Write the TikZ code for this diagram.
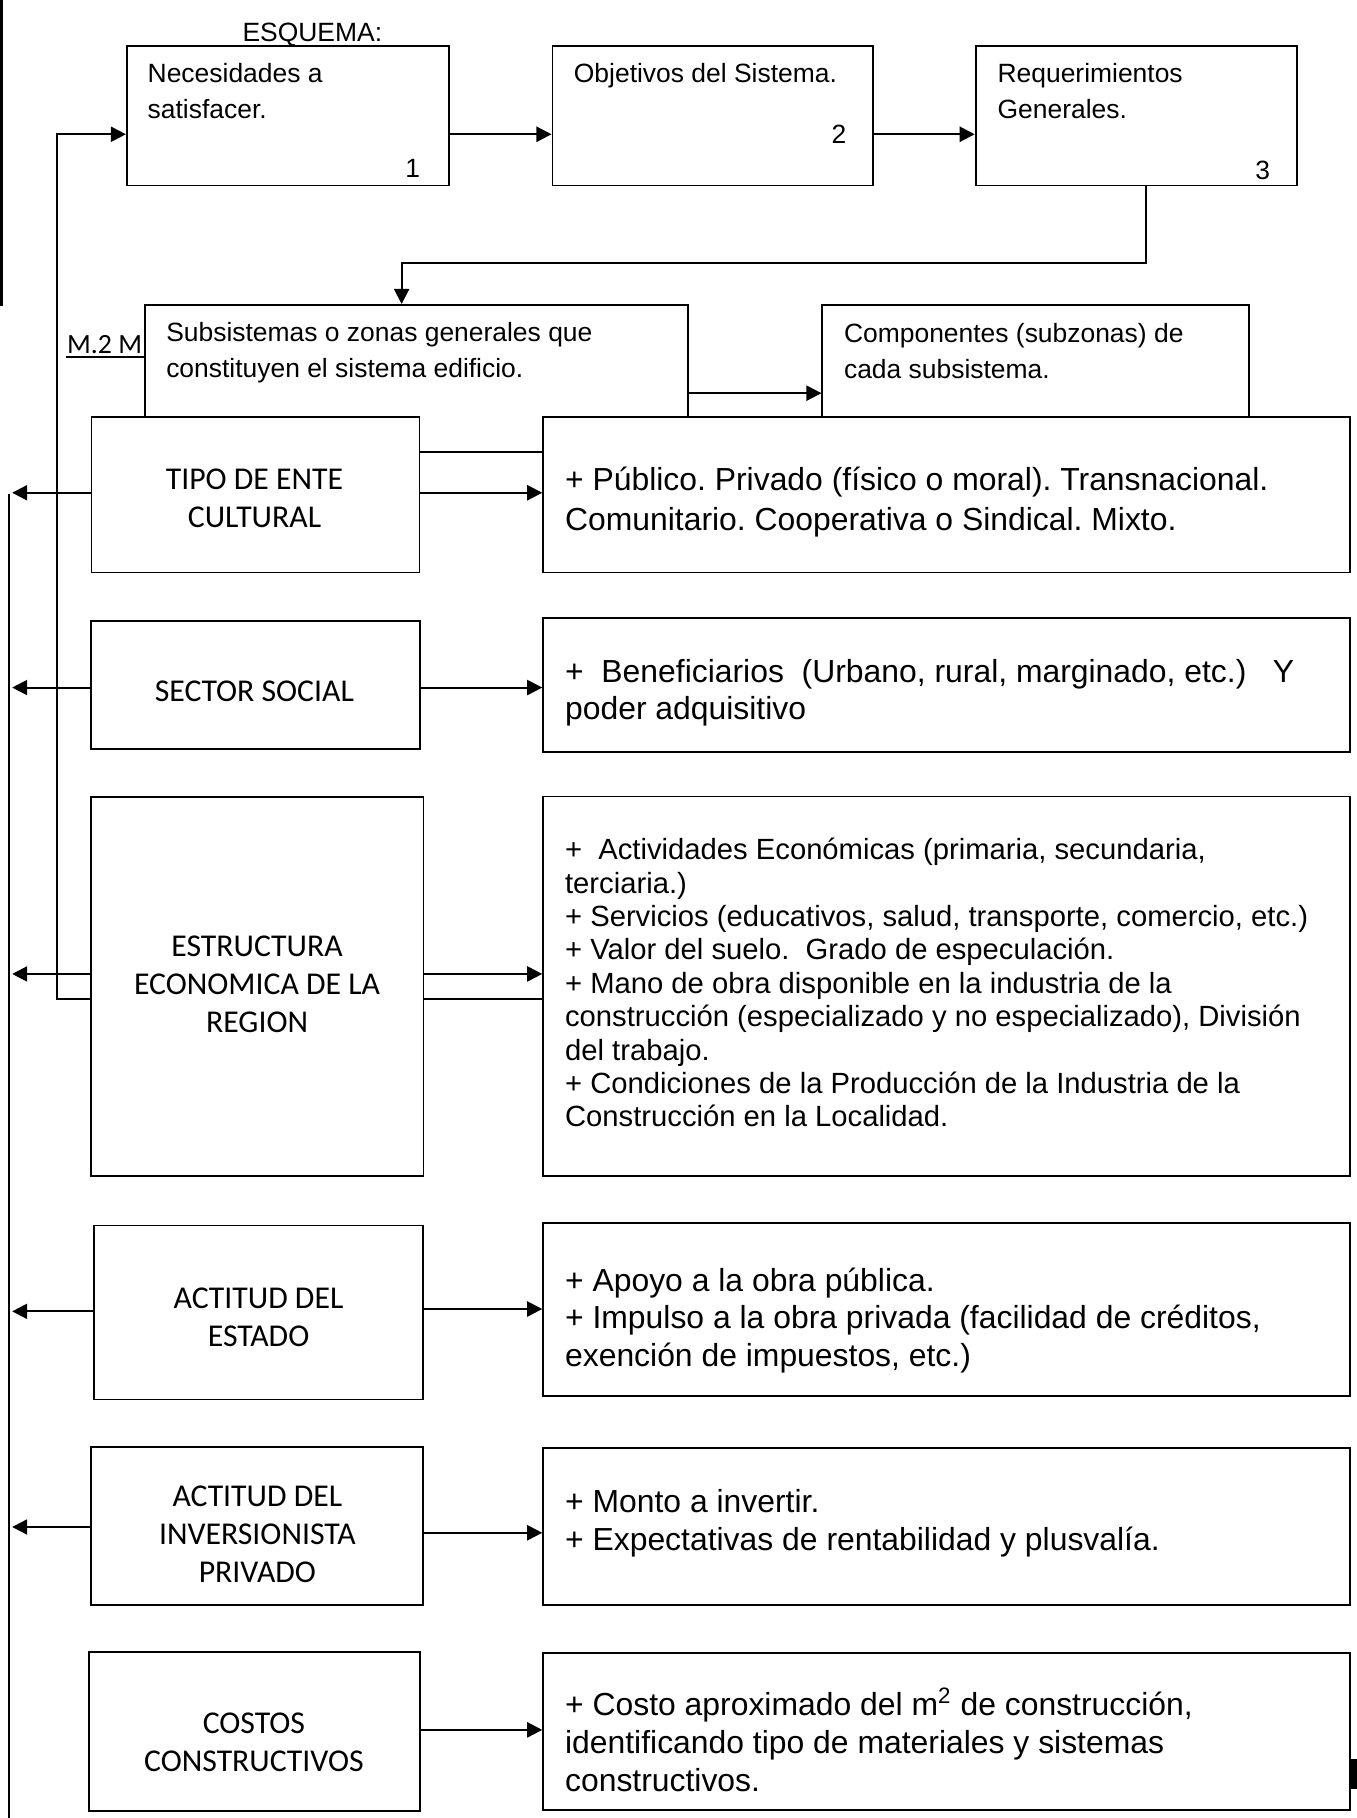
\documentclass[tikz,border=0pt]{standalone}
\usepackage{fontspec}
\setmainfont{Liberation Sans}
\newfontfamily\carl{Carlito}
\usetikzlibrary{arrows.meta,fit}
\frenchspacing
\pgfdeclarelayer{paper}
\pgfdeclarelayer{under}
\pgfsetlayers{paper,under,main}
\tikzset{
  box/.style={draw, line width=0.8pt, fill=white, inner sep=0pt},
  ln/.style={line width=0.8pt},
  arr/.style={line width=0.9pt, -{Triangle[length=6.5pt,width=6.5pt]}},
  ttext/.style={anchor=north west, inner sep=0pt, align=left, font=\fontsize{11.4}{15.5}\selectfont},
  num/.style={anchor=base, inner sep=0pt, font=\fontsize{11.4}{13}\selectfont},
  rtext/.style={anchor=north west, inner sep=0pt, align=left},
  ltext/.style={anchor=north, inner sep=0pt, align=center, font=\carl\fontsize{13.7}{16.5}\selectfont},
}
\begin{document}
\begin{tikzpicture}[x=0.5pt,y=-0.5pt]
\useasboundingbox (0,0) rectangle (1170,1568);
\begin{pgfonlayer}{paper}
  \fill[white] (0,0) rectangle (1170,1568);
\end{pgfonlayer}

% marks at the page edges
\fill (0,0) rectangle (2.8,264);
\fill (1163.4,1517) rectangle (1170,1543);

% ---- upper sequence ----
\node[anchor=base, inner sep=0pt, font=\fontsize{11.4}{13}\selectfont] (esq) at (269.4,35.5) {ESQUEMA:};

\node[box, fit={(109.4,39.4) (387,160)}] (n1) {};
\node[box, fit={(476.5,39.4) (752.9,160)}] (n2) {};
\node[box, fit={(841.5,39.4) (1118.7,160)}] (n3) {};
\node[ttext] (t1) at (127,48.8) {\strut Necesidades a\\\strut satisfacer.};
\node[ttext] (t2) at (494.6,48.8) {\strut Objetivos del Sistema.};
\node[ttext] (t3) at (860,48.8) {\strut Requerimientos\\\strut Generales.};
\node[num] (k1) at (356,153.2) {1};
\node[num] (k2) at (723.7,124) {2};
\node[num] (k3) at (1089,154.8) {3};

\coordinate (ytop) at (0,115.8);
\draw[arr] (n1.east |- ytop) -- (n2.west |- ytop);
\draw[arr] (n2.east |- ytop) -- (n3.west |- ytop);

% ---- subsystems ----
\node[box, fit={(125,263) (593.5,390)}] (sub) {};
\node[box, fit={(709.3,263) (1077.5,390)}] (comp) {};
\node[ttext] (tsub) at (143,272.3) {\strut Subsistemas o zonas generales que\\\strut constituyen el sistema edificio.};
\node[ttext] (tcomp) at (727.6,273.2) {\strut Componentes (subzonas) de\\\strut cada subsistema.};
\node[anchor=base east, inner sep=0pt, font=\carl\fontsize{12}{14}\selectfont] (m2) at (123,304.7) {M.2 M};
\coordinate (ul) at (57,308);
\draw[ln] (ul) -- (ul -| sub.west);

\coordinate (c3) at (988.5,227);
\coordinate (c4) at (346.4,227);
\draw[ln, arr] (n3.south -| c3) -- (c3) -- (c4) -- (c4 |- sub.north);
\coordinate (ysub) at (0,339.1);
\draw[arr] (sub.east |- ysub) -- (comp.west |- ysub);

% ---- factors (left) and their contents (right) ----
\node[box, fit={(78.9,360) (361.8,493.8)}] (la) {};
\node[box, fit={(78.2,535.4) (362,645.8)}] (lb) {};
\node[box, fit={(78.2,687.5) (365.3,1014)}] (lc) {};
\node[box, fit={(81,1057) (365,1207)}] (ld) {};
\node[box, fit={(78.5,1248) (365,1384)}] (le) {};
\node[box, fit={(76.5,1425) (362,1562)}] (lf) {};

\node[box, fit={(468.5,360) (1164.5,493.8)}] (ra) {};
\node[box, fit={(468.5,533) (1164.5,648.5)}] (rb) {};
\node[box, fit={(468.5,687) (1164.5,1014)}] (rc) {};
\node[box, fit={(468.5,1055) (1164.5,1204.3)}] (rd) {};
\node[box, fit={(468.5,1249) (1164.5,1384)}] (re) {};
\node[box, fit={(468.5,1425.5) (1164.5,1561.4)}] (rf) {};

\node[ltext] (lta) at (219.5,398.7) {\strut TIPO DE ENTE\\\strut CULTURAL};
\node[ltext, anchor=base] (ltb) at (219.4,604.6) {SECTOR SOCIAL};
\node[ltext] (ltc) at (221.7,801.1) {\strut ESTRUCTURA\\\strut ECONOMICA DE LA\\\strut REGION};
\node[ltext] (ltd) at (223,1104.7) {\strut ACTITUD DEL\\\strut ESTADO};
\node[ltext] (lte) at (222,1275.7) {\strut ACTITUD DEL\\\strut INVERSIONISTA\\\strut PRIVADO};
\node[ltext] (ltf) at (219,1471.7) {\strut COSTOS\\\strut CONSTRUCTIVOS};

\node[rtext, font=\fontsize{13.75}{17.25}\selectfont] (rta) at (487,398.9)
  {\strut + Público. Privado (físico o moral). Transnacional.\\\strut Comunitario. Cooperativa o Sindical. Mixto.};
\node[rtext, font=\fontsize{13.75}{15.85}\selectfont] (rtb) at (487,565.9)
  {\strut +\ \ Beneficiarios\ \ (Urbano, rural, marginado, etc.)\ \ \ Y\\\strut poder adquisitivo};
\node[rtext, font=\fontsize{12.6}{14.4}\selectfont] (rtc) at (487,721)
  {\strut +\ \ Actividades Económicas (primaria, secundaria,\\
   \strut terciaria.)\\
   \strut + Servicios (educativos, salud, transporte, comercio, etc.)\\
   \strut + Valor del suelo.\ \ Grado de especulación.\\
   \strut + Mano de obra disponible en la industria de la\\
   \strut construcción (especializado y no especializado), División\\
   \strut del trabajo.\\
   \strut + Condiciones de la Producción de la Industria de la\\
   \strut Construcción en la Localidad.};
\node[rtext, font=\fontsize{13.75}{16.1}\selectfont] (rtd) at (487,1090.9)
  {\strut + Apoyo a la obra pública.\\\strut + Impulso a la obra privada (facilidad de créditos,\\\strut exención de impuestos, etc.)};
\node[rtext, font=\fontsize{13.75}{16.4}\selectfont] (rte) at (487,1281)
  {\strut + Monto a invertir.\\\strut + Expectativas de rentabilidad y plusvalía.};
\node[rtext, font=\fontsize{13.75}{16.4}\selectfont] (rtf) at (487,1455.9)
  {\strut + Costo aproximado del m\smash{\textsuperscript{2}} de construcción,\\\strut identificando tipo de materiales y sistemas\\\strut constructivos.};

% ---- connectors ----
\coordinate (xt) at (10.5,0);
\coordinate (ya) at (0,425);
\coordinate (yb) at (0,593);
\coordinate (yc) at (0,840);
\coordinate (ydl) at (0,1131);
\coordinate (ydr) at (0,1129);
\coordinate (yel) at (0,1317);
\coordinate (yer) at (0,1322);
\coordinate (yf) at (0,1492);

\draw[arr] (la.east |- ya) -- (ra.west |- ya);
\draw[arr] (lb.east |- yb) -- (rb.west |- yb);
\draw[arr] (lc.east |- yc) -- (rc.west |- yc);
\draw[arr] (ld.east |- ydr) -- (rd.west |- ydr);
\draw[arr] (le.east |- yer) -- (re.west |- yer);
\draw[arr] (lf.east |- yf) -- (rf.west |- yf);

\draw[arr] (la.west |- ya) -- (xt |- ya);
\draw[arr] (lb.west |- yb) -- (xt |- yb);
\draw[arr] (lc.west |- yc) -- (xt |- yc);
\draw[arr] (ld.west |- ydl) -- (xt |- ydl);
\draw[arr] (le.west |- yel) -- (xt |- yel);

% outer return line
\coordinate (ob1) at (7.7,426);
\coordinate (ob2) at (7.7,1568);
\draw[ln] (ob1) -- (ob2);

% inner feedback line, running behind the boxes
\coordinate (ci1) at (49.5,115.8);
\coordinate (ci2) at (49.5,861.6);
\begin{pgfonlayer}{under}
  \draw[arr] (rc.west |- ci2) -- (ci2) -- (ci1) -- (n1.west |- ci1);
\end{pgfonlayer}
\end{tikzpicture}
\end{document}
